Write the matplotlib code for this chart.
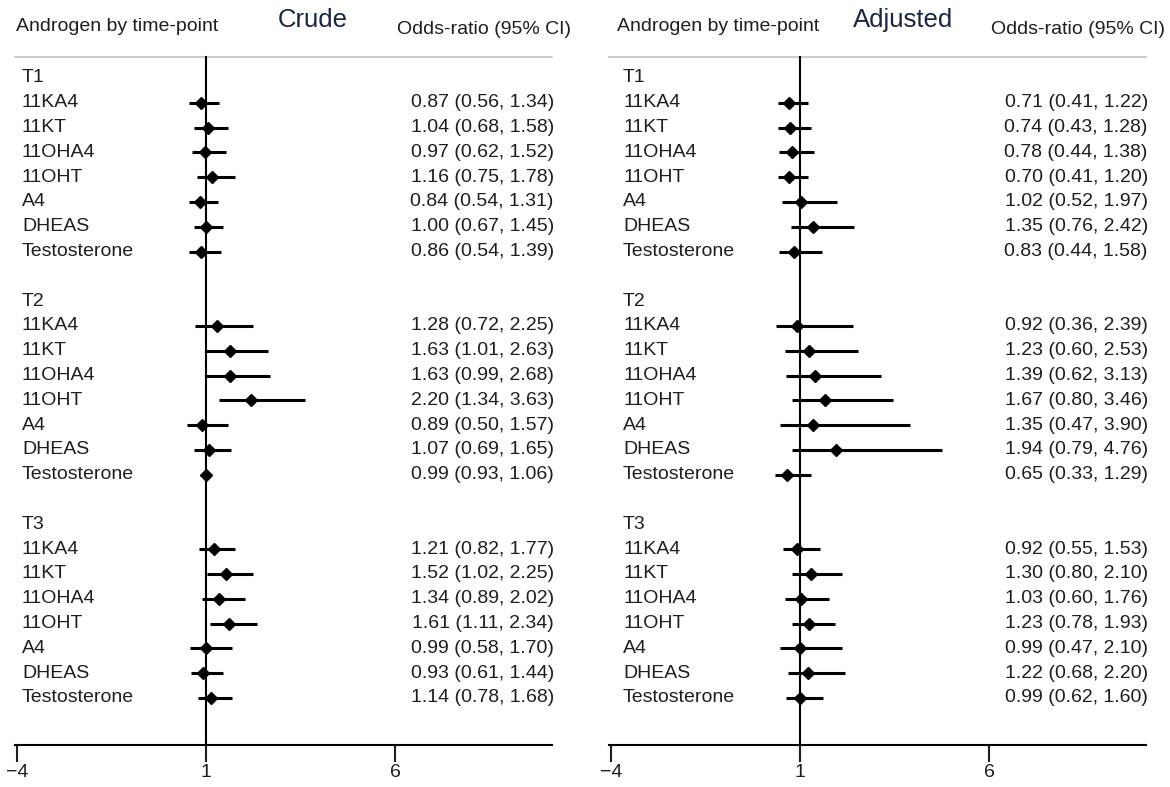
import matplotlib
matplotlib.use("Agg")
import matplotlib.pyplot as plt

plt.rcParams["font.family"] = ["Liberation Sans", "DejaVu Sans"]

timepoints = ["T1", "T2", "T3"]
androgens = ["11KA4", "11KT", "11OHA4", "11OHT", "A4", "DHEAS", "Testosterone"]

# odds ratios with 95% CI, one list per time-point (order follows `androgens`)
crude_or = [[0.87, 1.04, 0.97, 1.16, 0.84, 1.00, 0.86],
            [1.28, 1.63, 1.63, 2.20, 0.89, 1.07, 0.99],
            [1.21, 1.52, 1.34, 1.61, 0.99, 0.93, 1.14]]
crude_lo = [[0.56, 0.68, 0.62, 0.75, 0.54, 0.67, 0.54],
            [0.72, 1.01, 0.99, 1.34, 0.50, 0.69, 0.93],
            [0.82, 1.02, 0.89, 1.11, 0.58, 0.61, 0.78]]
crude_hi = [[1.34, 1.58, 1.52, 1.78, 1.31, 1.45, 1.39],
            [2.25, 2.63, 2.68, 3.63, 1.57, 1.65, 1.06],
            [1.77, 2.25, 2.02, 2.34, 1.70, 1.44, 1.68]]

adj_or = [[0.71, 0.74, 0.78, 0.70, 1.02, 1.35, 0.83],
          [0.92, 1.23, 1.39, 1.67, 1.35, 1.94, 0.65],
          [0.92, 1.30, 1.03, 1.23, 0.99, 1.22, 0.99]]
adj_lo = [[0.41, 0.43, 0.44, 0.41, 0.52, 0.76, 0.44],
          [0.36, 0.60, 0.62, 0.80, 0.47, 0.79, 0.33],
          [0.55, 0.80, 0.60, 0.78, 0.47, 0.68, 0.62]]
adj_hi = [[1.22, 1.28, 1.38, 1.20, 1.97, 2.42, 1.58],
          [2.39, 2.53, 3.13, 3.46, 3.90, 4.76, 1.29],
          [1.53, 2.10, 1.76, 1.93, 2.10, 2.20, 1.60]]

xticks = [-4, 1, 6]

TXT = "#1e1e1e"
FS = 14
W, H = 1170, 787
PX = 37.8          # pixels per x unit
ROW0, ROWH = 78, 24.8


def panel(left_px, right_px, one_px, title, est, lo, hi, label_dx, title_x):
    # axes spanning the full figure height; data coords map straight onto pixels
    ax = fig.add_axes([left_px / W, 0, (right_px - left_px) / W, 1])
    ax.set_xlim(1 - (one_px - left_px) / PX, 1 + (right_px - one_px) / PX)
    ax.set_ylim((H - ROW0) / ROWH, -ROW0 / ROWH)
    ax.patch.set_alpha(0)
    for s in ["top", "left", "right"]:
        ax.spines[s].set_visible(False)
    ax.set_yticks([])

    axis_row = (745 - ROW0) / ROWH
    ax.spines["bottom"].set_position(("data", axis_row))
    ax.spines["bottom"].set_bounds(-4.05, 10.15)
    ax.spines["bottom"].set_linewidth(1.5)
    ax.set_xticks(xticks)
    ax.tick_params(axis="x", direction="out", length=12, width=1.5,
                   labelsize=FS, pad=2, colors=TXT)

    top_row = (57 - ROW0) / ROWH
    ax.plot([-4.05, 10.15], [top_row, top_row], color="#c8c8c8", lw=1.3,
            clip_on=False)
    ax.plot([1, 1], [top_row, axis_row], color="black", lw=1.5, zorder=2)

    # header
    ax.text(-4 + label_dx - 0.15, (27 - ROW0) / ROWH, "Androgen by time-point",
            fontsize=FS, color=TXT, va="center", ha="left")
    ax.text(title_x, (20 - ROW0) / ROWH, title, fontsize=18.5, color="#1c2541",
            va="center", ha="center")
    ax.text(10.65, (30 - ROW0) / ROWH, "Odds-ratio (95% CI)", fontsize=FS,
            color=TXT, va="center", ha="right")

    row = 0
    for t, tp in enumerate(timepoints):
        ax.text(-4 + label_dx, row, tp, fontsize=FS, color=TXT, va="center")
        row += 1
        for i, name in enumerate(androgens):
            e, l, h = est[t][i], lo[t][i], hi[t][i]
            ax.plot([l, h], [row, row], color="black", lw=2.2,
                    solid_capstyle="butt", zorder=3)
            ax.plot(e, row, marker="D", ms=6, color="black", zorder=4)
            ax.text(-4 + label_dx, row, name, fontsize=FS, color=TXT, va="center")
            ax.text(10.2, row, f"{e:.2f} ({l:.2f}, {h:.2f})", fontsize=FS,
                    color=TXT, va="center", ha="right")
            row += 1
        row += 1
    return ax


fig = plt.figure(figsize=(W / 100, H / 100), dpi=100)
panel(0, 585, 206, "Crude", crude_or, crude_lo, crude_hi,
      label_dx=0.13, title_x=3.83)
panel(590, 1170, 800, "Adjusted", adj_or, adj_lo, adj_hi,
      label_dx=0.32, title_x=3.72)
fig.savefig("out.png", dpi=100)
